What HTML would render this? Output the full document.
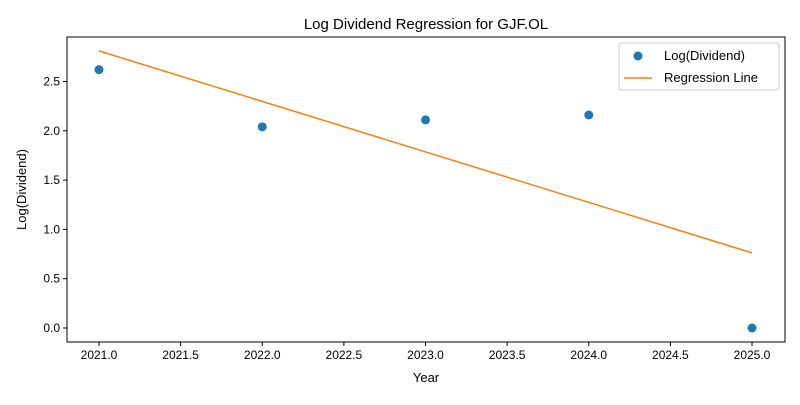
<!DOCTYPE html>
<html><head><meta charset="utf-8"><style>
body{margin:0;background:#fff;}
svg{font-family:"Liberation Sans","DejaVu Sans",sans-serif;}
</style></head><body>
<svg id="chart" width="800" height="400">
<rect width="800" height="400" fill="#fff"/>
</svg>
<script>
const years=[2021,2022,2023,2024,2025];
const logDiv=[2.62,2.04,2.11,2.16,0.0];
const xTicks=[2021.0,2021.5,2022.0,2022.5,2023.0,2023.5,2024.0,2024.5,2025.0];
const yTicks=[0.0,0.5,1.0,1.5,2.0,2.5];
const L=67,R=785,T=37,B=342;
const xMin=2020.804,xMax=2025.202,yMin=-0.142,yMax=2.951;
const sx=v=>L+(v-xMin)/(xMax-xMin)*(R-L);
const sy=v=>B-(v-yMin)/(yMax-yMin)*(B-T);
const svg=document.getElementById('chart');
const NS='http://www.w3.org/2000/svg';
function mk(tag,attrs,parent){const e=document.createElementNS(NS,tag);for(const k in attrs)e.setAttribute(k,attrs[k]);(parent||svg).appendChild(e);return e;}
// regression
const n=years.length,mx=years.reduce((a,b)=>a+b)/n,my=logDiv.reduce((a,b)=>a+b)/n;
let sxy=0,sxx=0;for(let i=0;i<n;i++){sxy+=(years[i]-mx)*(logDiv[i]-my);sxx+=(years[i]-mx)**2;}
const slope=sxy/sxx,icpt=my-slope*mx;
const x0=years[0],x1=years[n-1];
const reg=mk('line',{x1:sx(x0),y1:sy(icpt+slope*x0),x2:sx(x1),y2:sy(icpt+slope*x1),stroke:'#ff7f0e','stroke-width':1.5});


years.forEach((y,i)=>{const c=mk('circle',{cx:sx(y),cy:sy(logDiv[i]),r:4.5,fill:'#1f77b4'});

});
const frame=mk('rect',{x:L,y:T,width:R-L,height:B-T,fill:'none',stroke:'#000','stroke-width':1});


xTicks.forEach(v=>{const x=sx(v);mk('line',{x1:x,y1:B,x2:x,y2:B+4,stroke:'#000'});
const t=mk('text',{x:x,y:B+17,'text-anchor':'middle','font-size':12});t.textContent=v.toFixed(1);

});
yTicks.forEach(v=>{const y=sy(v);mk('line',{x1:L-4,y1:y,x2:L,y2:y,stroke:'#000'});
const t=mk('text',{x:L-7,y:y+4,'text-anchor':'end','font-size':12});t.textContent=v.toFixed(1);

});
const title=mk('text',{x:(L+R)/2,y:29,'text-anchor':'middle','font-size':15});title.textContent='Log Dividend Regression for GJF.OL';


const xl=mk('text',{x:(L+R)/2,y:382,'text-anchor':'middle','font-size':13});xl.textContent='Year';


const yl=mk('text',{x:0,y:0,'text-anchor':'middle','font-size':13,transform:'translate(26,'+((T+B)/2)+') rotate(-90)'});yl.textContent='Log(Dividend)';


const lg=mk('g',{});


mk('rect',{x:619,y:43,width:160,height:47,rx:3,fill:'#fff',stroke:'#ccc'},lg);
mk('circle',{cx:638,cy:56,r:4.5,fill:'#1f77b4'},lg);
const t1=mk('text',{x:664,y:60,'font-size':13},lg);t1.textContent='Log(Dividend)';


mk('line',{x1:624,y1:78,x2:652,y2:78,stroke:'#ff7f0e','stroke-width':1.5},lg);
const t2=mk('text',{x:664,y:82,'font-size':13},lg);t2.textContent='Regression Line';


</script>
</body></html>
